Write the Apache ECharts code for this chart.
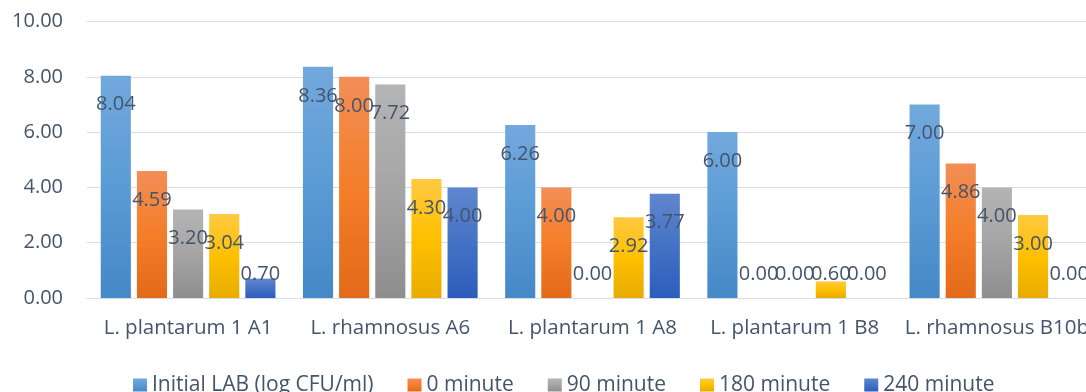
<!DOCTYPE html>
<html>
<head>
<meta charset="utf-8">
<script src="https://cdn.jsdelivr.net/npm/echarts@6/dist/echarts.min.js"></script>
<style>
html,body{margin:0;padding:0;background:#fff;overflow:hidden;width:1086px;height:392px;}
#chart{width:1110px;height:392px;}
</style>
</head>
<body>
<div id="chart"></div>
<script>
var categories = ['L. plantarum 1 A1', 'L. rhamnosus A6', 'L. plantarum 1 A8', 'L. plantarum 1 B8', 'L. rhamnosus B10b'];
var seriesNames = ['Initial LAB (log CFU/ml)', '0 minute', '90 minute', '180 minute', '240 minute'];
var initialLAB = [8.04, 8.36, 6.26, 6.00, 7.00];
var min0 = [4.59, 8.00, 4.00, 0.00, 4.86];
var min90 = [3.20, 7.72, 0.00, 0.00, 4.00];
var min180 = [3.04, 4.30, 2.92, 0.60, 3.00];
var min240 = [0.70, 4.00, 3.77, 0.00, 0.00];
var yTicks = [0, 2, 4, 6, 8, 10];

var seriesData = [initialLAB, min0, min90, min180, min240];
var gradients = [
  ['#72A9DD', '#5B9BD5', '#4588C7'],
  ['#F28E56', '#F47E2A', '#E26A1A'],
  ['#B4B4B4', '#A5A5A5', '#8E8E8E'],
  ['#FFC942', '#FFC000', '#E6AC00'],
  ['#6086D0', '#4472C4', '#2C5DBC']
];
var textColor = '#44546A';
var fontFam = '"Open Sans", sans-serif';

function grad(c) {
  return new echarts.graphic.LinearGradient(0, 0, 0, 1, [
    {offset: 0, color: c[0]},
    {offset: 0.5, color: c[1]},
    {offset: 1, color: c[2]}
  ]);
}

var series = seriesData.map(function (arr, i) {
  return {
    name: seriesNames[i],
    type: 'bar',
    barGap: '20%',
    barCategoryGap: '13.6%',
    itemStyle: {color: grad(gradients[i])},
    label: {
      show: true,
      position: 'insideTop',
      distance: 19,
      fontSize: 20,
      fontFamily: fontFam,
      color: textColor,
      formatter: function (p) { return p.value.toFixed(2); }
    },
    data: arr.map(function (v) {
      if (v < 1.5) {
        return {value: v, label: {position: 'insideBottom', distance: 14}};
      }
      return v;
    })
  };
});

var chart = echarts.init(document.getElementById('chart'), null, {renderer: 'canvas'});
chart.setOption({
  animation: false,
  backgroundColor: '#fff',
  grid: {left: 87, top: 21.5, width: 1011, height: 276.5, containLabel: false},
  legend: {
    left: 133,
    top: 374,
    padding: 0,
    itemWidth: 14,
    itemHeight: 13,
    itemGap: 34,
    icon: 'rect',
    textStyle: {fontSize: 21, lineHeight: 22, fontFamily: fontFam, color: textColor},
    data: seriesNames
  },
  xAxis: {
    type: 'category',
    data: categories,
    axisLine: {show: true, lineStyle: {color: '#D9DDE3', width: 1}},
    axisTick: {show: false},
    axisLabel: {fontSize: 20.5, fontFamily: fontFam, color: textColor, margin: 20, interval: 0}
  },
  yAxis: {
    type: 'value',
    min: yTicks[0],
    max: yTicks[yTicks.length - 1],
    interval: 2,
    axisLine: {show: false},
    axisTick: {show: false},
    splitLine: {lineStyle: {color: '#D9DDE3', width: 1}},
    axisLabel: {
      fontSize: 20,
      fontFamily: fontFam,
      color: textColor,
      margin: 24,
      formatter: function (v) { return v.toFixed(2); }
    }
  },
  series: series
});
</script>
</body>
</html>
